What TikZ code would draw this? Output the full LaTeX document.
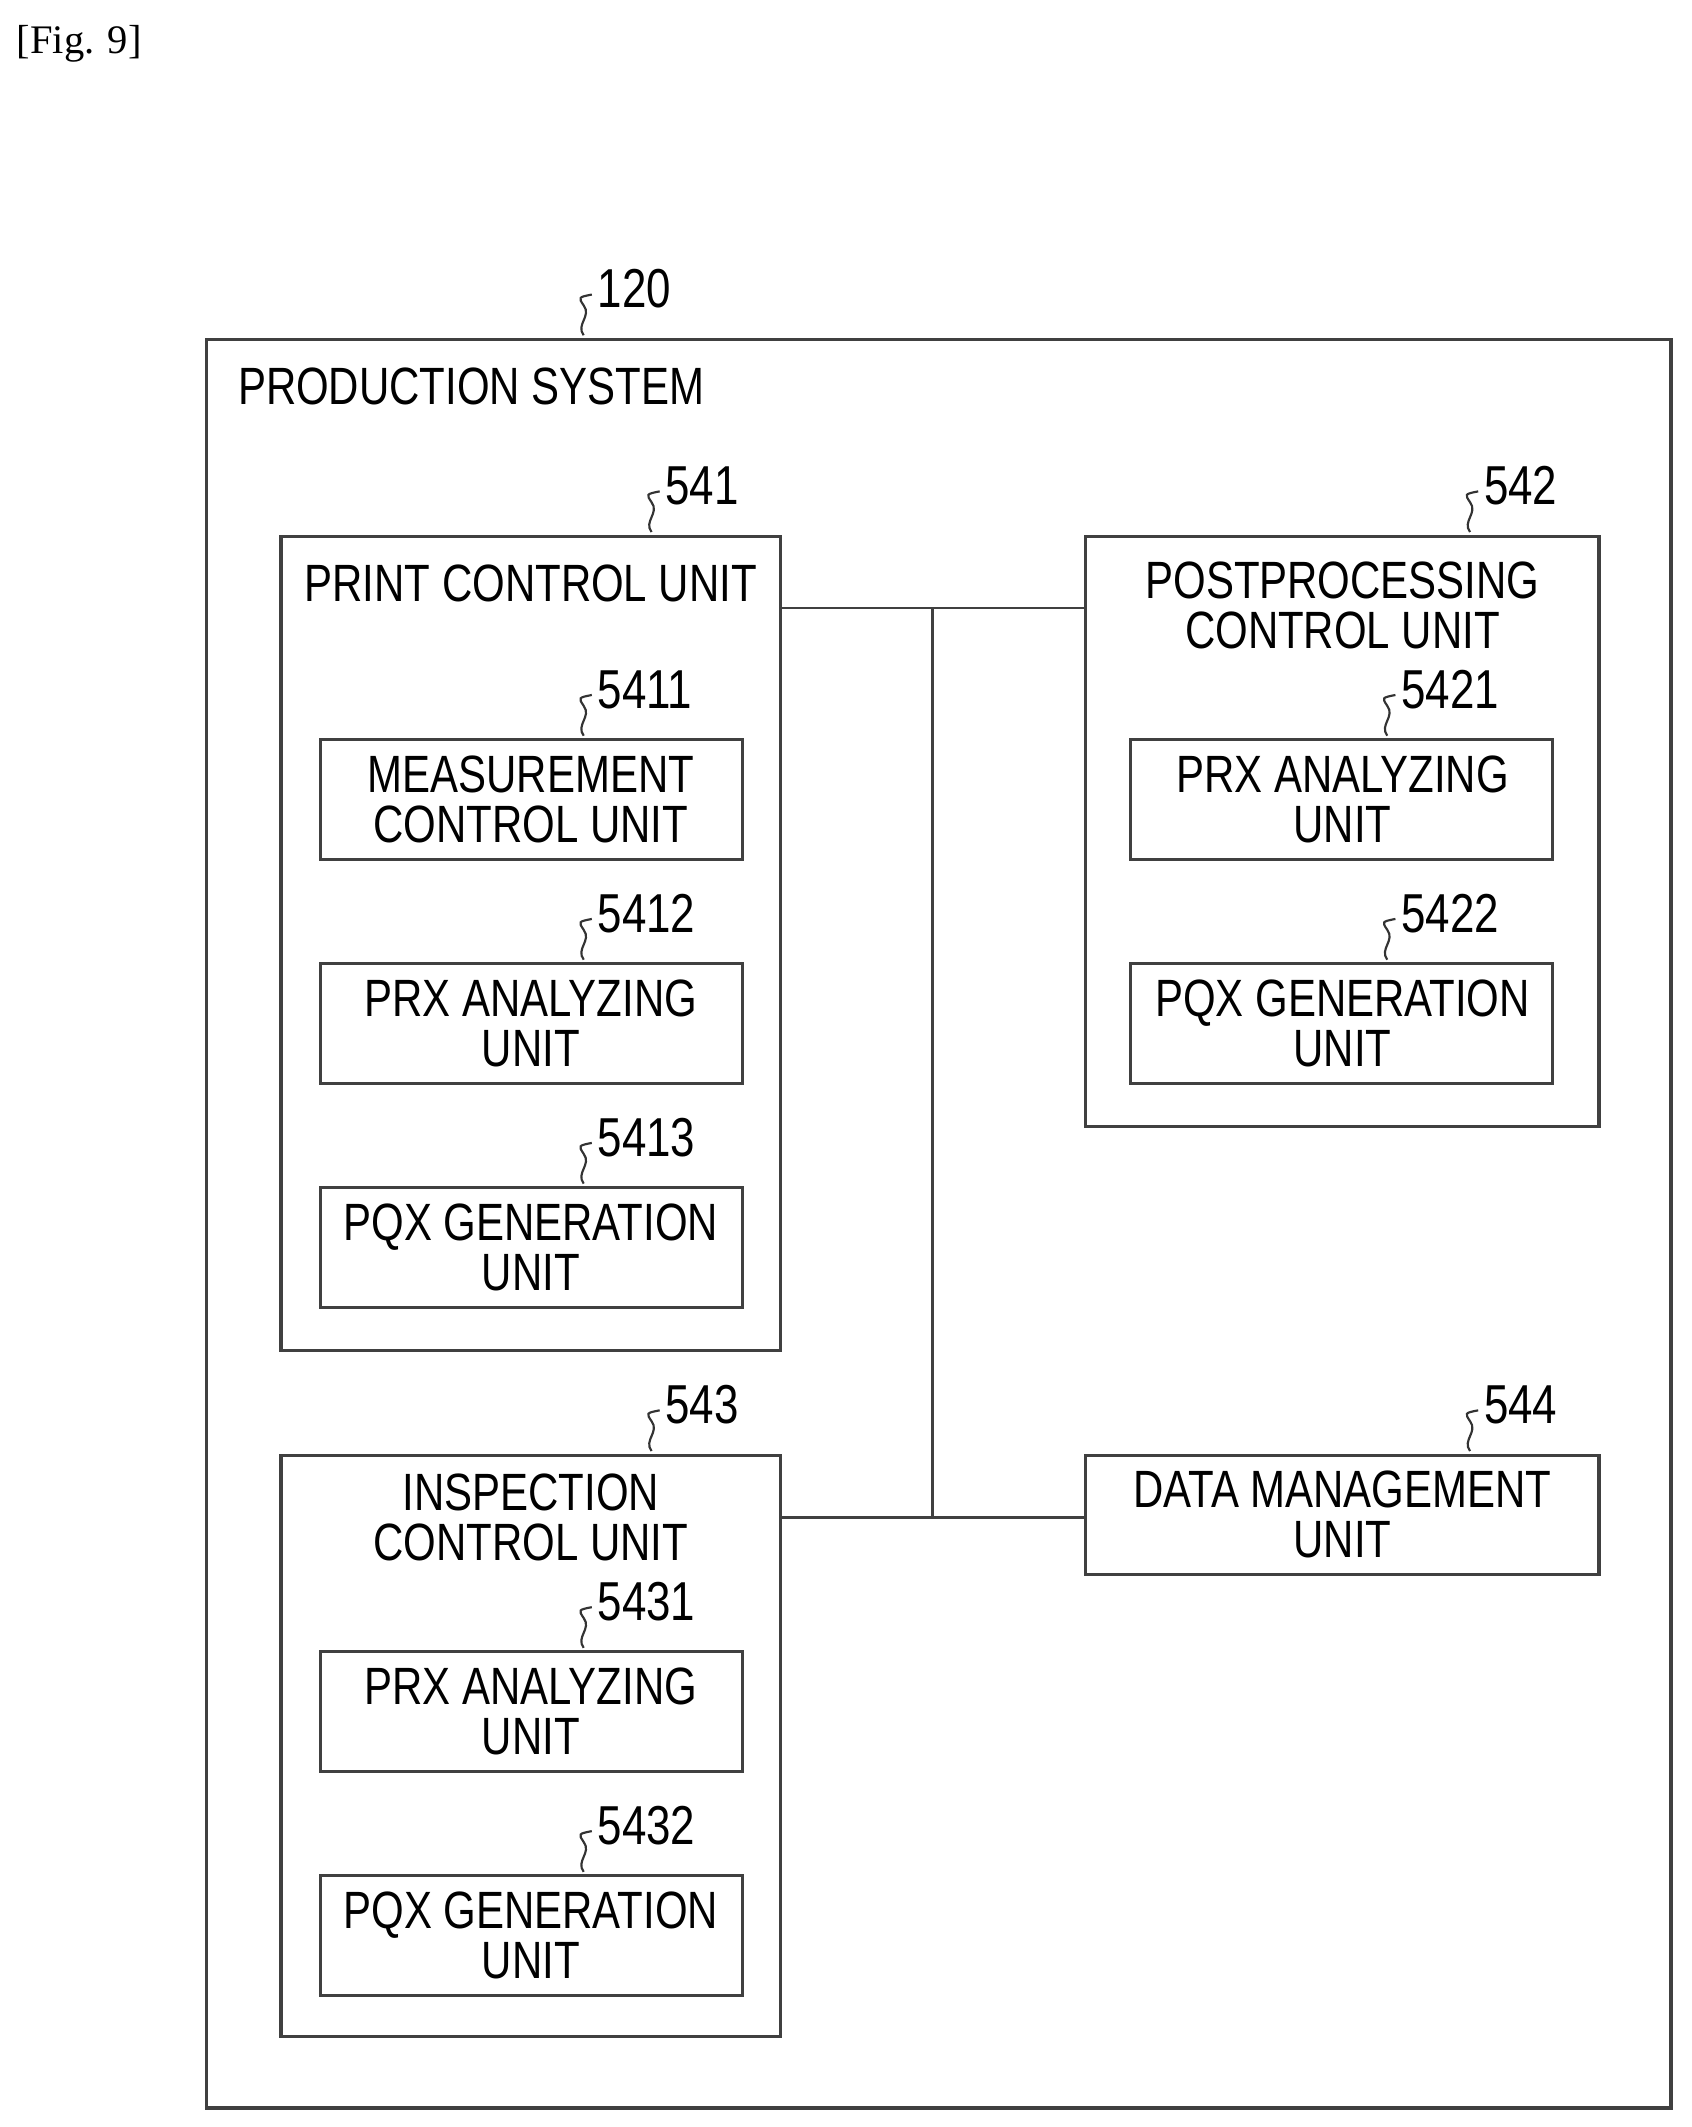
\documentclass[tikz,border=0pt]{standalone}
\usepackage{fontspec}
\setmainfont{Liberation Sans}[FakeStretch=0.8]
\newfontfamily\serifft{Liberation Serif}
\begin{document}
\begin{tikzpicture}[x=0.02cm,y=-0.02cm,
  box/.style={draw=black!75,line width=1.3pt},
  conn/.style={draw=black!75,line width=1.1pt},
  txt/.style={font=\fontsize{22}{21}\selectfont,align=center,inner sep=0pt},
  num/.style={font=\fontsize{23}{25}\selectfont,inner sep=0pt,anchor=west}]
\useasboundingbox (0,0) rectangle (1246,1567);
\newcommand\leadsq[3]{% x y(bottom) name
  \draw[line width=0.9pt,black!80] (#1,#2) .. controls (#1-6,#2-8) and (#1+6,#2-14) .. (#1,#2-22) .. controls (#1-4,#2-28) .. (#1+6,#2-30);
  \node[num] (#3) at (#1+10,#2-34) {#3};}
\node[font=\serifft\fontsize{17}{19}\selectfont,anchor=west,inner sep=0pt] (fig) at (12,32) {[Fig. 9]};
% outer
\draw[box] (152,250) rectangle (1231,1553);
\leadsq{430}{247}{120}
\node[txt,anchor=west] (ps) at (175,285) {PRODUCTION SYSTEM};
% 541
\draw[box] (207,395) rectangle (575,995);
\leadsq{480}{392}{541}
\node[txt] (t541) at (391,430) {PRINT CONTROL UNIT};
\draw[box] (236,545) rectangle (547,633); \node[txt] (b5411) at (391,589) {MEASUREMENT\\CONTROL UNIT};
\leadsq{430}{542}{5411}
\draw[box] (236,710) rectangle (547,798); \node[txt] (b5412) at (391,754) {PRX ANALYZING\\UNIT};
\leadsq{430}{707}{5412}
\draw[box] (236,875) rectangle (547,963); \node[txt] (b5413) at (391,919) {PQX GENERATION\\UNIT};
\leadsq{430}{872}{5413}
% 542
\draw[box] (800,395) rectangle (1178,830);
\leadsq{1083}{392}{542}
\node[txt] (t542) at (989,446) {POSTPROCESSING\\CONTROL UNIT};
\draw[box] (833,545) rectangle (1144,633); \node[txt] (b5421) at (989,589) {PRX ANALYZING\\UNIT};
\leadsq{1022}{542}{5421}
\draw[box] (833,710) rectangle (1144,798); \node[txt] (b5422) at (989,754) {PQX GENERATION\\UNIT};
\leadsq{1022}{707}{5422}
% 543
\draw[box] (207,1072) rectangle (575,1500);
\leadsq{480}{1069}{543}
\node[txt] (t543) at (391,1118) {INSPECTION\\CONTROL UNIT};
\draw[box] (236,1217) rectangle (547,1305); \node[txt] (b5431) at (391,1261) {PRX ANALYZING\\UNIT};
\leadsq{430}{1214}{5431}
\draw[box] (236,1382) rectangle (547,1470); \node[txt] (b5432) at (391,1426) {PQX GENERATION\\UNIT};
\leadsq{430}{1379}{5432}
% 544
\draw[box] (800,1072) rectangle (1178,1160);
\node[txt] (b544) at (989,1116) {DATA MANAGEMENT\\UNIT};
\leadsq{1083}{1069}{544}
% connectors
\coordinate (a) at (575,448); \coordinate (b) at (800,448);
\coordinate (c) at (575,1118); \coordinate (d) at (800,1118);
\coordinate (j1) at (687,448); \coordinate (j2) at (687,1118);
\draw[conn] (a) -- (b); \draw[conn] (c) -- (d); \draw[conn] (j1) -- (j2);
\end{tikzpicture}
\end{document}
